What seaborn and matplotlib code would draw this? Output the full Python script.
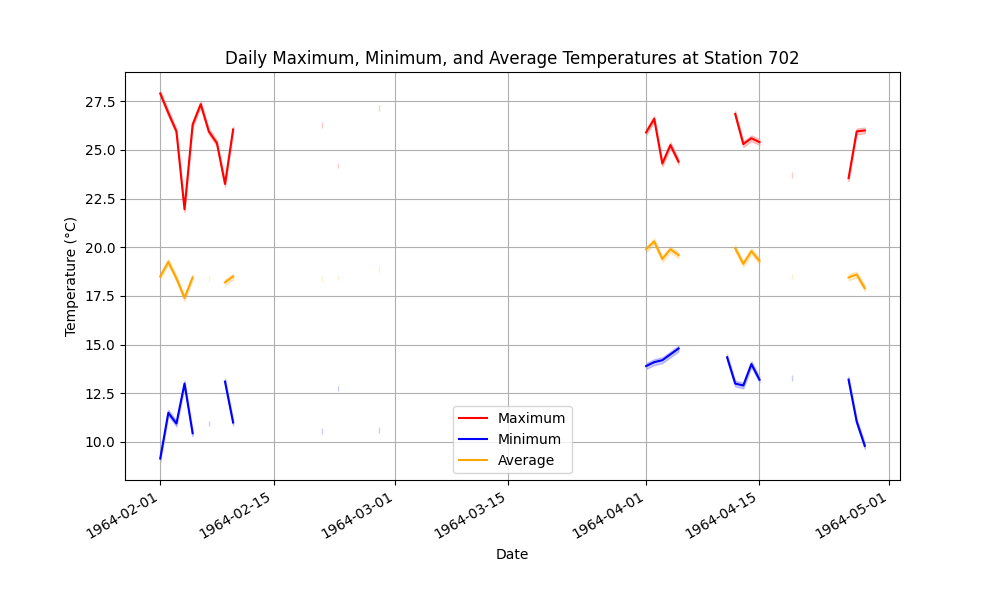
import pandas as pd
import numpy as np
import seaborn as sns
import matplotlib
matplotlib.use('Agg')
import matplotlib.pyplot as plt


# dates that have at least one reading (station 702, 1964)
obs_dates = ['1964-02-01', '1964-02-02', '1964-02-03', '1964-02-04', '1964-02-05',
             '1964-02-06', '1964-02-07', '1964-02-08', '1964-02-09', '1964-02-10',
             '1964-02-21', '1964-02-23', '1964-02-28',
             '1964-04-01', '1964-04-02', '1964-04-03', '1964-04-04', '1964-04-05',
             '1964-04-11', '1964-04-12', '1964-04-13', '1964-04-14', '1964-04-15',
             '1964-04-19', '1964-04-26', '1964-04-27', '1964-04-28']

t_max = [27.9, 26.9, 25.95, 21.95, 26.3, 27.35, 25.95, 25.35, 23.25, 26.05,
         26.3, 24.2, 27.15,
         25.9, 26.6, 24.3, 25.25, 24.4,
         None, 26.85, 25.3, 25.6, 25.4,
         23.7, 23.55, 25.95, 26.0]

t_min = [9.15, 11.5, 10.95, 13.0, 10.45, None, 10.95, None, 13.1, 11.0,
         10.55, 12.75, 10.6,
         13.9, 14.1, 14.2, 14.5, 14.8,
         14.35, 13.0, 12.9, 14.0, 13.2,
         13.3, 13.2, 11.05, 9.8]

t_avg = [18.5, 19.25, 18.4, 17.4, 18.45, None, 18.4, None, 18.2, 18.5,
         18.4, 18.45, 18.9,
         19.9, 20.3, 19.4, 19.9, 19.6,
         None, 19.95, 19.15, 19.8, 19.3,
         18.5, 18.45, 18.6, 17.9]

# half spread between the duplicate readings of a day
spread = 0.15


def build_frame():
    df = pd.DataFrame({'max': t_max, 'min': t_min, 'avg': t_avg},
                      index=pd.to_datetime(obs_dates), dtype=float)
    # full daily index so missing days become NaN
    full = pd.date_range(df.index.min(), df.index.max(), freq='D')
    df = df.reindex(full)
    df.index.name = 'date'
    return df


def plot_series(ax, s, color, label):
    # split at missing days so the line breaks there
    seg = s.isna().cumsum()
    tmp = pd.DataFrame({'value': s, 'seg': seg}).dropna()
    # two readings per day
    tmp = pd.concat([tmp.assign(value=tmp.value - spread),
                     tmp.assign(value=tmp.value + spread)]).reset_index()
    first = True
    for _, d in tmp.groupby('seg'):
        sns.lineplot(x='date', y='value', data=d, color=color,
                     label=label if first else None,
                     errorbar=('pi', 100), ax=ax)
        first = False


def run():
    df = build_frame()

    fig, ax = plt.subplots(figsize=(10, 6))

    plot_series(ax, df['max'], 'red', 'Maximum')
    plot_series(ax, df['min'], 'blue', 'Minimum')
    plot_series(ax, df['avg'], 'orange', 'Average')

    ax.set_title('Daily Maximum, Minimum, and Average Temperatures at Station 702')
    ax.set_xlabel('Date')
    ax.set_ylabel('Temperature (°C)')
    ax.grid(True)
    ax.legend(loc='lower center')
    fig.autofmt_xdate()

    fig.savefig('out.png', dpi=100)
    plt.close()


if __name__ == '__main__':
    run()
